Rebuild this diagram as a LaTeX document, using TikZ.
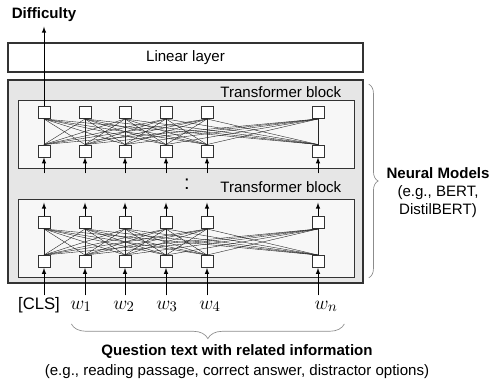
\documentclass[tikz,border=0pt]{standalone}
\usepackage{fontspec}
\setmainfont{Liberation Sans}
\usetikzlibrary{decorations.pathreplacing}
\definecolor{outergray}{HTML}{E6E6E6}
\definecolor{innergray}{HTML}{F7F7F7}
\definecolor{edgegray}{HTML}{333333}
\definecolor{bracegray}{HTML}{8C8C8C}
\newcommand{\fullconnect}[2]{\foreach \i in {1,...,6} {\foreach \j in {1,...,6} {\draw[link] (#1\i.south) -- (#2\j.north);}}}
\tikzset{
  unit/.style={draw=edgegray, fill=white, line width=0.7pt, minimum size=9pt, inner sep=0pt},
  link/.style={line width=0.3pt, black!85},
  arr/.style={-latex, line width=0.55pt},
  block/.style={draw=edgegray, fill=innergray, line width=0.7pt, minimum width=252pt, inner sep=0pt},
  word/.style={text height=9pt, text depth=3pt, inner sep=1pt},
  curly/.style={decorate, draw=bracegray, line width=0.5pt}
}

\begin{document}
\begin{tikzpicture}[x=0.75pt, y=-0.75pt, font=\fontsize{11.3}{13.5}\selectfont]
  \useasboundingbox (0,0) rectangle (494,387);

  \node[draw=edgegray, fill=outergray, line width=1.2pt, minimum width=266.25pt, minimum height=152.25pt] (models) at (185.5,181.5) {};
  \node[draw=edgegray, fill=white, line width=0.9pt, minimum width=266.25pt, minimum height=21.75pt] (linear) at (185.5,57.5) {Linear layer};
  \node[block, minimum height=51pt] (upper) at (186,134) {};
  \node[block, minimum height=58.5pt] (lower) at (186,238) {};
  \node[anchor=east] (uplabel) at (346,92) {Transformer block};
  \node[anchor=east] (lowlabel) at (346,187) {Transformer block};
  \node[font=\fontsize{15}{15}\selectfont] (dots) at (187,184) {:};

  \node[unit] (ut1) at (44,112.5) {};
  \node[unit] (ut2) at (85,112.5) {};
  \node[unit] (ut3) at (125,112.5) {};
  \node[unit] (ut4) at (166,112.5) {};
  \node[unit] (ut5) at (207,112.5) {};
  \node[unit] (ut6) at (318,112.5) {};
  \node[unit] (ub1) at (44,151) {};
  \node[unit] (ub2) at (85,151) {};
  \node[unit] (ub3) at (125,151) {};
  \node[unit] (ub4) at (166,151) {};
  \node[unit] (ub5) at (207,151) {};
  \node[unit] (ub6) at (318,151) {};

  \node[unit] (lt1) at (44,222.5) {};
  \node[unit] (lt2) at (85,222.5) {};
  \node[unit] (lt3) at (125,222.5) {};
  \node[unit] (lt4) at (166,222.5) {};
  \node[unit] (lt5) at (207,222.5) {};
  \node[unit] (lt6) at (318,222.5) {};
  \node[unit] (lb1) at (44,261.5) {};
  \node[unit] (lb2) at (85,261.5) {};
  \node[unit] (lb3) at (125,261.5) {};
  \node[unit] (lb4) at (166,261.5) {};
  \node[unit] (lb5) at (207,261.5) {};
  \node[unit] (lb6) at (318,261.5) {};

  \fullconnect{ut}{ub}
  \fullconnect{lt}{lb}

  \node[word, font=\fontsize{12.5}{14}\selectfont] (cls) at (39,305) {[CLS]};
  \node[word, font=\fontsize{15}{16}\selectfont] (w1) at (81,305) {$w_1$};
  \node[word, font=\fontsize{15}{16}\selectfont] (w2) at (124,305) {$w_2$};
  \node[word, font=\fontsize{15}{16}\selectfont] (w3) at (167,305) {$w_3$};
  \node[word, font=\fontsize{15}{16}\selectfont] (w4) at (210,305) {$w_4$};
  \node[word, font=\fontsize{15}{16}\selectfont] (wn) at (326,305) {$w_n$};

  \draw[arr] (lb1 |- cls.north) -- (lb1);
  \draw[arr] (lb2 |- w1.north) -- (lb2);
  \draw[arr] (lb3 |- w2.north) -- (lb3);
  \draw[arr] (lb4 |- w3.north) -- (lb4);
  \draw[arr] (lb5 |- w4.north) -- (lb5);
  \draw[arr] (lb6 |- wn.north) -- (lb6);

  \foreach \k in {1,...,6} {
    \draw[arr] (lt\k) -- ([yshift=10pt]lt\k.north);
    \draw[arr] ([yshift=-12pt]ub\k.south) -- (ub\k);
  }

  \node[font=\fontsize{11.3}{13.5}\selectfont\bfseries] (difficulty) at (44,15) {Difficulty};
  \draw[arr] (ut1) -- (difficulty);

  \draw[curly, decoration={brace, amplitude=7pt}] ([xshift=3.75pt, yshift=-3.75pt]models.north east) -- ([xshift=3.75pt, yshift=4.5pt]models.south east);
  \node[align=center] (neural) at (438,193) {\textbf{Neural Models}\\(e.g., BERT,\\DistilBERT)};

  \draw[curly, decoration={brace, mirror, amplitude=11pt}] ([xshift=2pt, yshift=-7pt]w1.south west) -- ([xshift=4pt, yshift=-7pt]wn.south east);
  \node[align=center, font=\fontsize{11.3}{15}\selectfont] (question) at (237,362) {\textbf{Question text with related information}\\(e.g., reading passage, correct answer, distractor options)};
\end{tikzpicture}
\end{document}
